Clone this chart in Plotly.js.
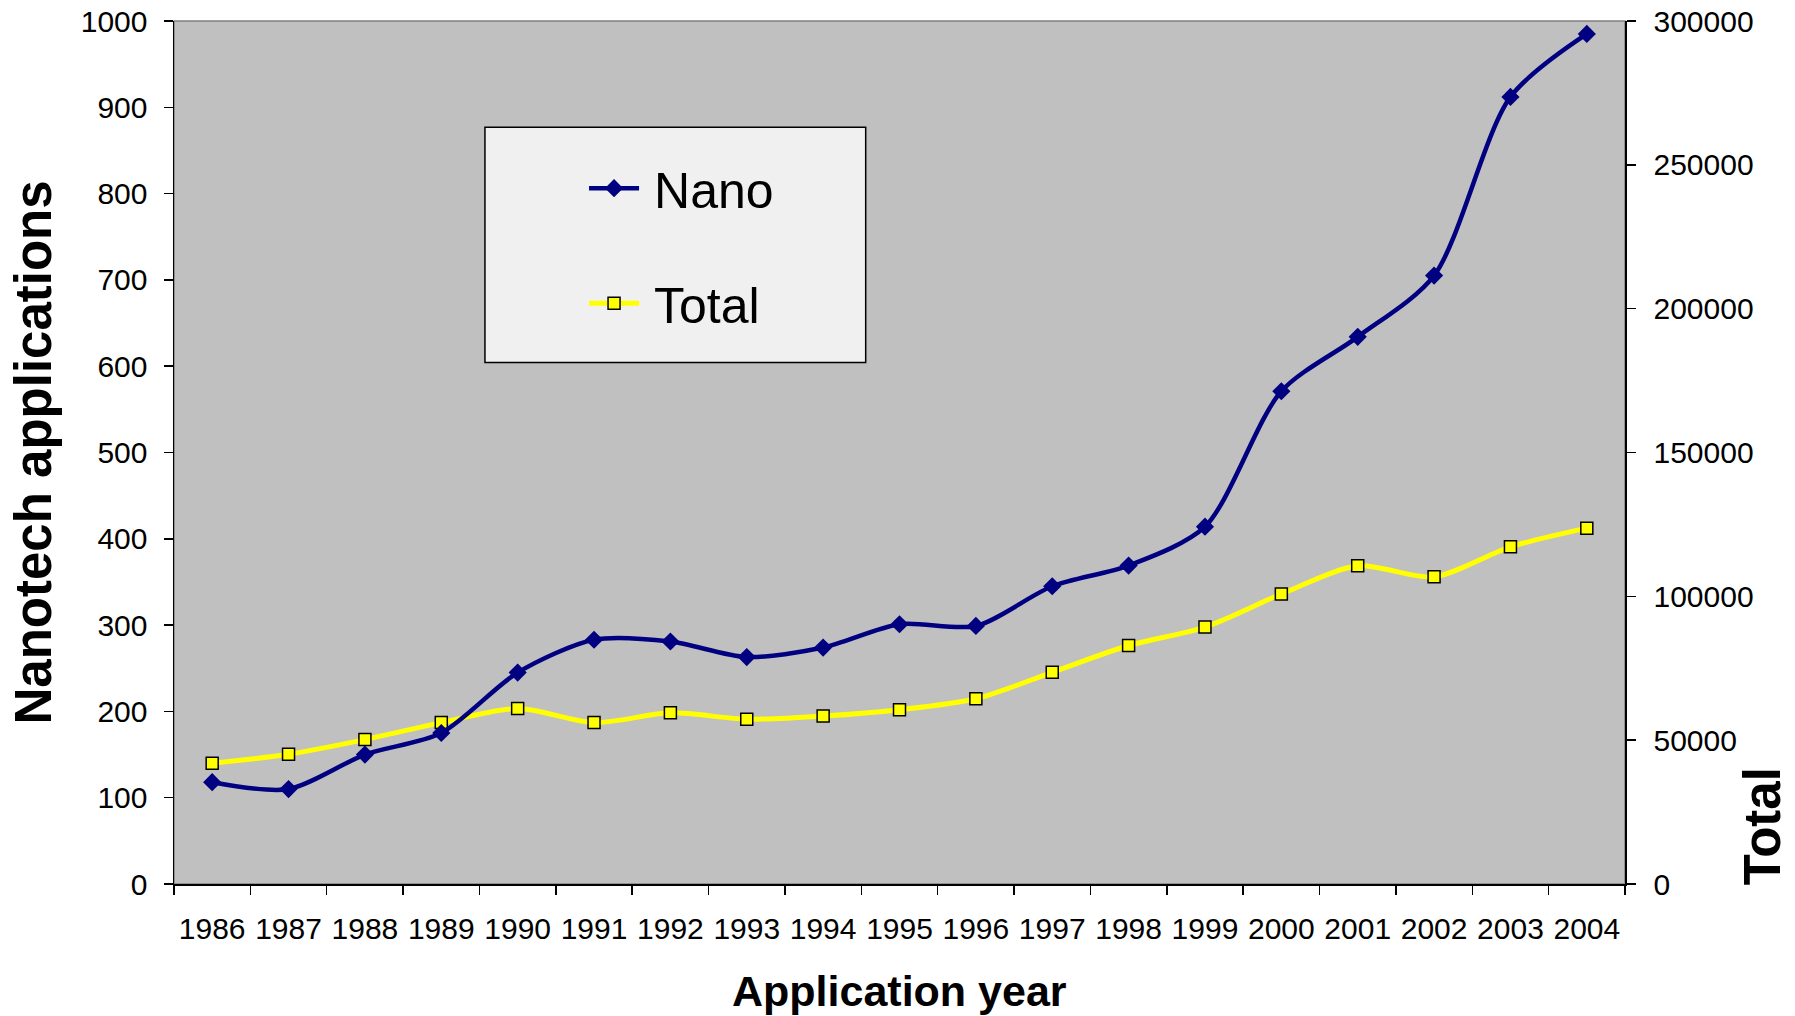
<!DOCTYPE html>
<html>
<head>
<meta charset="utf-8">
<script src="https://cdn.plot.ly/plotly-3.0.1.min.js"></script>
<style>
  html, body { margin: 0; padding: 0; background: #ffffff; }
  #chart { width: 1795px; height: 1016px; }
</style>
</head>
<body>
<div id="chart"></div>
<script>
// ---- data ----
var years = ['1986','1987','1988','1989','1990','1991','1992','1993','1994','1995',
             '1996','1997','1998','1999','2000','2001','2002','2003','2004'];
var nanoApplications = [118, 110, 150, 175, 245, 283, 281, 263, 274, 301,
                        299, 345, 369, 414, 571, 634, 705, 912, 985];
var totalApplications = [42000, 45100, 50200, 56100, 61000, 56100, 59500, 57300, 58400, 60600,
                         64400, 73600, 82900, 89300, 100800, 110600, 106800, 117200, 123700];
var leftTicks = [0, 100, 200, 300, 400, 500, 600, 700, 800, 900, 1000];
var rightTicks = [0, 50000, 100000, 150000, 200000, 250000, 300000];
var seriesNames = ['Nano', 'Total'];

var FONT = 'Liberation Sans, Arial, sans-serif';
var GAP = '\u2009'; // thin space between legend symbol and label

var traceNano = {
  name: GAP + seriesNames[0],
  x: years,
  y: nanoApplications,
  xaxis: 'x',
  yaxis: 'y2',
  type: 'scatter',
  mode: 'lines+markers',
  legendgroup: 'g1',
  line: { color: '#000080', width: 4.5, shape: 'spline', smoothing: 0.8 },
  marker: { symbol: 'diamond', size: 14, color: '#000080', line: { width: 0 } },
  hoverinfo: 'x+y'
};
var traceTotal = {
  name: GAP + seriesNames[1],
  x: years,
  y: totalApplications,
  xaxis: 'x',
  yaxis: 'y',
  type: 'scatter',
  mode: 'lines+markers',
  legendgroup: 'g2',
  line: { color: '#FFFF00', width: 5, shape: 'spline', smoothing: 0.8 },
  marker: { symbol: 'square', size: 12, color: '#FFFF00', line: { color: '#000000', width: 1.5 } },
  hoverinfo: 'x+y'
};

var tickFont = { family: FONT, size: 30, color: '#000000' };
var yTitleFont = { family: FONT, size: 51, color: '#000000', weight: 'bold' };
var xTitleFont = { family: FONT, size: 43, color: '#000000', weight: 'bold' };

var layout = {
  width: 1795,
  height: 1016,
  paper_bgcolor: '#ffffff',
  plot_bgcolor: '#C0C0C0',
  margin: { l: 174, r: 170, t: 21, b: 132, pad: 0 },
  showlegend: true,
  legend: {
    x: 0.2826, y: 0.8515, xanchor: 'left', yanchor: 'top',
    bgcolor: 'rgba(0,0,0,0)', borderwidth: 0,
    font: { family: FONT, size: 50, color: '#000000' },
    tracegroupgap: 47,
    itemwidth: 50,
    traceorder: 'grouped'
  },
  xaxis: {
    type: 'category',
    categoryorder: 'array', categoryarray: years,
    range: [-0.5, 18.5], autorange: false,
    tickson: 'boundaries',
    tickangle: 0,
    ticks: 'outside', ticklen: 9, tickwidth: 1.5, tickcolor: '#000000',
    showline: true, linecolor: '#000000', linewidth: 1.5,
    showgrid: false, zeroline: false,
    tickfont: tickFont,
    ticklabelstandoff: 17,
    mirror: false
  },
  xaxis2: {
    type: 'linear', overlaying: 'x', anchor: 'y', side: 'bottom',
    range: [-0.5, 18.5], autorange: false, tick0: -0.5, dtick: 1,
    ticks: 'inside', ticklen: 9, tickwidth: 1.5, tickcolor: '#000000',
    showticklabels: false, showline: false, showgrid: false, zeroline: false
  },
  yaxis: {
    side: 'right', anchor: 'x',
    range: [0, 300000], autorange: false, tickvals: rightTicks, ticktext: rightTicks.map(String),
    ticks: 'outside', ticklen: 9, tickwidth: 1.5, tickcolor: '#000000',
    showline: true, linecolor: '#000000', linewidth: 1.5,
    showgrid: false, zeroline: false,
    tickfont: tickFont, ticklabelstandoff: 12
  },
  yaxis2: {
    side: 'left', overlaying: 'y', anchor: 'x',
    range: [0, 1000], autorange: false, tickvals: leftTicks, ticktext: leftTicks.map(String),
    ticks: 'outside', ticklen: 9, tickwidth: 1.5, tickcolor: '#000000',
    showline: true, linecolor: '#000000', linewidth: 1.5,
    showgrid: false, zeroline: false,
    tickfont: tickFont, ticklabelstandoff: 10
  },
  yaxis3: {
    side: 'left', overlaying: 'y', anchor: 'x',
    range: [0, 1000], autorange: false, tickvals: leftTicks,
    ticks: 'inside', ticklen: 9, tickwidth: 1.5, tickcolor: '#000000',
    showticklabels: false, showline: false, showgrid: false, zeroline: false
  },
  yaxis4: {
    side: 'right', overlaying: 'y', anchor: 'x',
    range: [0, 300000], autorange: false, tickvals: rightTicks,
    ticks: 'inside', ticklen: 9, tickwidth: 1.5, tickcolor: '#000000',
    showticklabels: false, showline: false, showgrid: false, zeroline: false
  },
  shapes: [
    { type: 'rect', xref: 'paper', yref: 'paper', x0: 0, x1: 1, y0: 0, y1: 1,
      line: { color: '#808080', width: 1.5 }, fillcolor: 'rgba(0,0,0,0)', layer: 'below' },
    { type: 'rect', xref: 'paper', yref: 'paper', x0: 0.2143, x1: 0.4767, y0: 0.6044, y1: 0.8768,
      line: { color: '#000000', width: 1.5 }, fillcolor: '#F0F0F0', layer: 'above' }
  ],
  annotations: [
    { text: 'Nanotech applications', xref: 'paper', yref: 'paper', x: -0.0965, y: 0.5,
      xanchor: 'center', yanchor: 'middle', textangle: -90, showarrow: false, font: yTitleFont },
    { text: 'Total', xref: 'paper', yref: 'paper', x: 1.0944, y: 0.067,
      xanchor: 'center', yanchor: 'middle', textangle: -90, showarrow: false, font: yTitleFont },
    { text: 'Application year', xref: 'paper', yref: 'paper', x: 0.5, y: -0.124,
      xanchor: 'center', yanchor: 'middle', showarrow: false, font: xTitleFont }
  ]
};

Plotly.newPlot('chart', [traceNano, traceTotal], layout, { displayModeBar: false, staticPlot: true });
</script>
</body>
</html>
